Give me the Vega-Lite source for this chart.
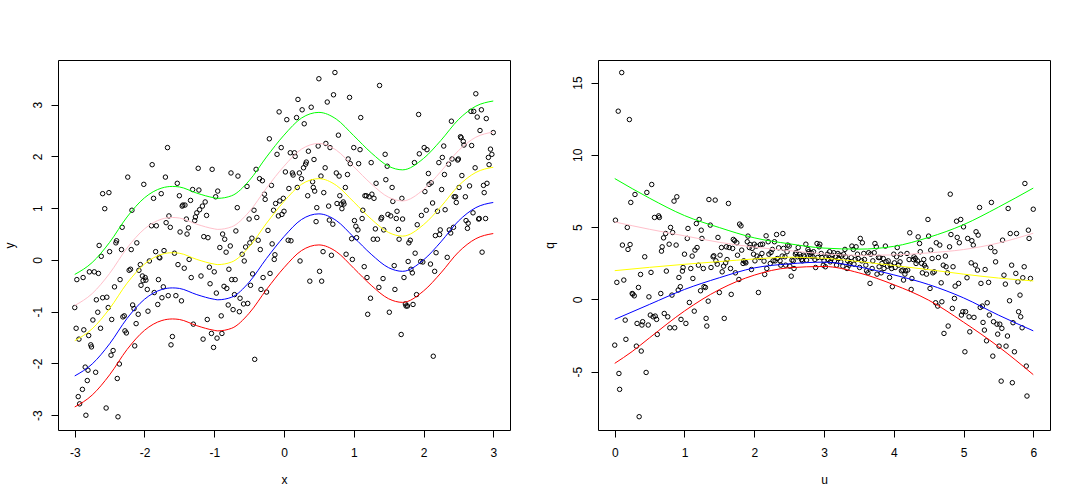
{
"$schema":"https://vega.github.io/schema/vega-lite/v6.json",
"background":"white",
"padding":{"left":2,"top":59,"right":5,"bottom":5},
"config":{"view":{"stroke":"black","strokeWidth":1},
"axis":{"domain":false,"grid":false,"tickColor":"black","tickSize":7,"tickWidth":1,"labelFont":"Liberation Sans","labelFontSize":12,"labelColor":"black","titleFont":"Liberation Sans","titleFontSize":12,"titleFontWeight":"normal","titleColor":"black"},
"axisX":{"labelPadding":10,"titlePadding":16},
"axisY":{"labelAngle":-90,"labelAlign":"center","labelBaseline":"alphabetic","labelPadding":10,"titlePadding":18,"titleBaseline":"alphabetic"}},
"spacing":88,
"bounds":"flush",
"datasets":{
"left":[{"x":-3.0,"y":-0.92},{"x":-2.98,"y":-1.32},{"x":-2.97,"y":-0.38},{"x":-2.95,"y":-2.64},{"x":-2.93,"y":-2.78},{"x":-2.94,"y":-1.53},{"x":-2.89,"y":-2.5},{"x":-2.88,"y":-0.34},{"x":-2.87,"y":-1.35},{"x":-2.85,"y":-2.07},{"x":-2.84,"y":-3.0},{"x":-2.82,"y":-2.33},{"x":-2.81,"y":-2.13},{"x":-2.8,"y":-1.46},{"x":-2.79,"y":-0.23},{"x":-2.77,"y":-1.64},{"x":-2.76,"y":-1.68},{"x":-2.74,"y":-1.16},{"x":-2.72,"y":-0.23},{"x":-2.7,"y":-2.17},{"x":-2.69,"y":-0.77},{"x":-2.67,"y":-1.01},{"x":-2.66,"y":-0.26},{"x":-2.65,"y":0.28},{"x":-2.63,"y":-1.32},{"x":-2.62,"y":0.07},{"x":-2.6,"y":-0.73},{"x":-2.6,"y":1.28},{"x":-2.57,"y":0.99},{"x":-2.55,"y":-2.86},{"x":-2.54,"y":-0.72},{"x":-2.52,"y":-0.92},{"x":-2.51,"y":1.3},{"x":-2.5,"y":0.16},{"x":-2.48,"y":-1.84},{"x":-2.47,"y":-1.15},{"x":-2.45,"y":-1.75},{"x":-2.43,"y":-0.52},{"x":-2.41,"y":0.33},{"x":-2.4,"y":0.37},{"x":-2.39,"y":-2.29},{"x":-2.38,"y":-3.03},{"x":-2.36,"y":-2.01},{"x":-2.35,"y":-0.38},{"x":-2.33,"y":0.2},{"x":-2.32,"y":0.63},{"x":-2.31,"y":-1.1},{"x":-2.29,"y":-1.08},{"x":-2.28,"y":-1.37},{"x":-2.26,"y":-1.41},{"x":-2.24,"y":1.6},{"x":-2.22,"y":-0.2},{"x":-2.2,"y":-0.18},{"x":-2.19,"y":0.2},{"x":-2.18,"y":0.96},{"x":-2.17,"y":-0.87},{"x":-2.15,"y":-0.94},{"x":-2.14,"y":-1.66},{"x":-2.12,"y":-1.23},{"x":-2.11,"y":0.33},{"x":-2.09,"y":-1.05},{"x":-2.08,"y":-0.2},{"x":-2.06,"y":-0.09},{"x":-2.05,"y":-0.49},{"x":-2.03,"y":-0.31},{"x":-2.02,"y":-0.4},{"x":-2.01,"y":1.46},{"x":-1.99,"y":-0.34},{"x":-1.98,"y":-0.39},{"x":-1.96,"y":-0.57},{"x":-1.95,"y":-0.99},{"x":-1.93,"y":-0.02},{"x":-1.9,"y":0.66},{"x":-1.89,"y":1.84},{"x":-1.87,"y":1.19},{"x":-1.86,"y":-0.63},{"x":-1.84,"y":0.16},{"x":-1.83,"y":0.66},{"x":-1.81,"y":-0.86},{"x":-1.8,"y":-0.38},{"x":-1.79,"y":0.05},{"x":-1.78,"y":0.04},{"x":-1.76,"y":1.28},{"x":-1.75,"y":-0.73},{"x":-1.73,"y":-0.52},{"x":-1.72,"y":0.18},{"x":-1.7,"y":1.6},{"x":-1.69,"y":0.72},{"x":-1.67,"y":2.17},{"x":-1.66,"y":-0.69},{"x":-1.65,"y":0.85},{"x":-1.63,"y":0.63},{"x":-1.62,"y":-1.64},{"x":-1.6,"y":-1.48},{"x":-1.57,"y":0.13},{"x":-1.55,"y":-0.69},{"x":-1.53,"y":1.48},{"x":-1.52,"y":-0.09},{"x":-1.5,"y":1.24},{"x":-1.49,"y":0.54},{"x":-1.47,"y":-0.79},{"x":-1.46,"y":1.04},{"x":-1.45,"y":1.06},{"x":-1.43,"y":-0.16},{"x":-1.42,"y":1.06},{"x":-1.4,"y":0.79},{"x":-1.39,"y":0.5},{"x":-1.37,"y":0.62},{"x":-1.36,"y":0.01},{"x":-1.34,"y":1.15},{"x":-1.33,"y":-0.34},{"x":-1.31,"y":1.36},{"x":-1.3,"y":-1.24},{"x":-1.28,"y":0.76},{"x":-1.27,"y":0.83},{"x":-1.25,"y":0.91},{"x":-1.23,"y":1.77},{"x":-1.22,"y":1.35},{"x":-1.21,"y":0.97},{"x":-1.19,"y":-0.31},{"x":-1.17,"y":1.04},{"x":-1.16,"y":-1.53},{"x":-1.15,"y":0.45},{"x":-1.13,"y":1.12},{"x":-1.11,"y":0.86},{"x":-1.1,"y":-1.15},{"x":-1.09,"y":0.43},{"x":-1.07,"y":-0.14},{"x":-1.06,"y":-0.46},{"x":-1.04,"y":-1.42},{"x":-1.03,"y":1.75},{"x":-1.01,"y":-1.69},{"x":-1.0,"y":-0.23},{"x":-0.98,"y":1.22},{"x":-0.97,"y":-0.64},{"x":-0.96,"y":-1.51},{"x":-0.95,"y":1.33},{"x":-0.92,"y":0.24},{"x":-0.9,"y":-1.08},{"x":-0.89,"y":-1.42},{"x":-0.88,"y":0.5},{"x":-0.86,"y":-0.51},{"x":-0.85,"y":0.4},{"x":-0.83,"y":0.15},{"x":-0.82,"y":-0.55},{"x":-0.8,"y":-0.87},{"x":-0.79,"y":-0.18},{"x":-0.77,"y":0.27},{"x":-0.76,"y":1.68},{"x":-0.75,"y":-0.38},{"x":-0.73,"y":-0.96},{"x":-0.71,"y":-0.67},{"x":-0.7,"y":-0.38},{"x":-0.69,"y":0.56},{"x":-0.67,"y":1.01},{"x":-0.66,"y":1.62},{"x":-0.64,"y":-1.0},{"x":-0.63,"y":-0.74},{"x":-0.6,"y":0.11},{"x":-0.58,"y":-0.85},{"x":-0.57,"y":-0.02},{"x":-0.55,"y":0.25},{"x":-0.53,"y":1.42},{"x":-0.52,"y":-0.84},{"x":-0.5,"y":0.79},{"x":-0.49,"y":0.33},{"x":-0.48,"y":-0.49},{"x":-0.46,"y":0.42},{"x":-0.45,"y":-0.27},{"x":-0.43,"y":0.96},{"x":-0.42,"y":-1.92},{"x":-0.4,"y":1.75},{"x":-0.39,"y":0.82},{"x":-0.37,"y":0.38},{"x":-0.35,"y":1.57},{"x":-0.34,"y":0.2},{"x":-0.33,"y":-0.57},{"x":-0.31,"y":1.53},{"x":-0.3,"y":-0.34},{"x":-0.28,"y":1.27},{"x":-0.27,"y":1.17},{"x":-0.25,"y":-0.62},{"x":-0.23,"y":0.57},{"x":-0.21,"y":2.34},{"x":-0.2,"y":-0.26},{"x":-0.18,"y":1.44},{"x":-0.17,"y":0.31},{"x":-0.15,"y":0.96},{"x":-0.14,"y":0.01},{"x":-0.13,"y":0.1},{"x":-0.12,"y":1.09},{"x":-0.1,"y":2.04},{"x":-0.08,"y":0.85},{"x":-0.07,"y":2.86},{"x":-0.06,"y":1.14},{"x":-0.04,"y":2.17},{"x":-0.03,"y":0.88},{"x":-0.01,"y":1.19},{"x":0.0,"y":0.94},{"x":0.02,"y":1.7},{"x":0.04,"y":2.71},{"x":0.06,"y":0.38},{"x":0.07,"y":1.38},{"x":0.09,"y":2.07},{"x":0.1,"y":0.37},{"x":0.12,"y":1.68},{"x":0.13,"y":1.64},{"x":0.15,"y":2.07},{"x":0.16,"y":2.0},{"x":0.18,"y":2.75},{"x":0.19,"y":1.4},{"x":0.2,"y":3.1},{"x":0.22,"y":1.68},{"x":0.23,"y":-0.02},{"x":0.25,"y":1.57},{"x":0.26,"y":2.9},{"x":0.28,"y":1.78},{"x":0.29,"y":2.63},{"x":0.31,"y":1.85},{"x":0.32,"y":1.89},{"x":0.34,"y":1.24},{"x":0.35,"y":2.1},{"x":0.37,"y":-0.41},{"x":0.39,"y":2.95},{"x":0.41,"y":1.51},{"x":0.42,"y":1.4},{"x":0.43,"y":1.94},{"x":0.44,"y":1.33},{"x":0.46,"y":0.74},{"x":0.47,"y":1.01},{"x":0.49,"y":2.2},{"x":0.5,"y":3.5},{"x":0.51,"y":-0.22},{"x":0.53,"y":1.62},{"x":0.54,"y":-0.41},{"x":0.56,"y":0.16},{"x":0.57,"y":1.3},{"x":0.59,"y":1.78},{"x":0.6,"y":2.25},{"x":0.62,"y":3.05},{"x":0.64,"y":1.04},{"x":0.65,"y":0.77},{"x":0.66,"y":2.17},{"x":0.68,"y":0.09},{"x":0.7,"y":0.69},{"x":0.71,"y":3.19},{"x":0.73,"y":3.62},{"x":0.75,"y":1.68},{"x":0.76,"y":1.09},{"x":0.78,"y":2.41},{"x":0.79,"y":1.62},{"x":0.8,"y":1.24},{"x":0.82,"y":1.08},{"x":0.83,"y":0.99},{"x":0.85,"y":1.12},{"x":0.86,"y":1.08},{"x":0.88,"y":1.4},{"x":0.89,"y":0.11},{"x":0.91,"y":1.65},{"x":0.92,"y":1.95},{"x":0.94,"y":3.14},{"x":0.95,"y":1.86},{"x":0.97,"y":0.41},{"x":0.98,"y":0.01},{"x":1.0,"y":2.17},{"x":1.01,"y":0.76},{"x":1.03,"y":0.65},{"x":1.04,"y":0.43},{"x":1.06,"y":0.58},{"x":1.07,"y":1.86},{"x":1.09,"y":2.13},{"x":1.1,"y":2.75},{"x":1.12,"y":0.8},{"x":1.13,"y":0.96},{"x":1.15,"y":-0.13},{"x":1.16,"y":1.24},{"x":1.18,"y":1.24},{"x":1.19,"y":-0.34},{"x":1.2,"y":-1.05},{"x":1.22,"y":1.22},{"x":1.24,"y":-0.74},{"x":1.25,"y":1.88},{"x":1.26,"y":1.27},{"x":1.28,"y":0.4},{"x":1.29,"y":1.19},{"x":1.31,"y":0.6},{"x":1.32,"y":1.48},{"x":1.34,"y":0.4},{"x":1.36,"y":-0.53},{"x":1.37,"y":3.37},{"x":1.39,"y":0.79},{"x":1.4,"y":0.82},{"x":1.42,"y":-0.36},{"x":1.43,"y":0.58},{"x":1.45,"y":2.04},{"x":1.46,"y":1.55},{"x":1.48,"y":1.81},{"x":1.49,"y":0.88},{"x":1.51,"y":-1.01},{"x":1.53,"y":0.85},{"x":1.55,"y":1.4},{"x":1.56,"y":1.13},{"x":1.58,"y":-0.11},{"x":1.59,"y":-0.57},{"x":1.61,"y":0.8},{"x":1.62,"y":0.94},{"x":1.64,"y":0.59},{"x":1.65,"y":0.4},{"x":1.68,"y":-1.44},{"x":1.69,"y":1.19},{"x":1.7,"y":0.79},{"x":1.72,"y":-0.34},{"x":1.74,"y":-0.85},{"x":1.75,"y":-0.89},{"x":1.77,"y":-0.89},{"x":1.78,"y":-0.03},{"x":1.79,"y":0.33},{"x":1.81,"y":0.38},{"x":1.82,"y":-0.18},{"x":1.84,"y":-0.25},{"x":1.85,"y":-0.86},{"x":1.87,"y":1.88},{"x":1.88,"y":0.13},{"x":1.9,"y":-0.67},{"x":1.91,"y":0.68},{"x":1.93,"y":2.81},{"x":1.94,"y":2.05},{"x":1.96,"y":-0.03},{"x":1.97,"y":0.86},{"x":1.99,"y":-0.04},{"x":2.01,"y":2.17},{"x":2.02,"y":1.32},{"x":2.04,"y":0.96},{"x":2.05,"y":2.13},{"x":2.07,"y":1.67},{"x":2.08,"y":1.46},{"x":2.1,"y":-0.08},{"x":2.11,"y":1.49},{"x":2.13,"y":1.1},{"x":2.14,"y":-1.86},{"x":2.16,"y":-0.22},{"x":2.17,"y":0.47},{"x":2.18,"y":0.14},{"x":2.2,"y":0.94},{"x":2.22,"y":1.88},{"x":2.23,"y":0.49},{"x":2.24,"y":0.58},{"x":2.26,"y":1.36},{"x":2.27,"y":1.98},{"x":2.29,"y":2.2},{"x":2.3,"y":1.65},{"x":2.31,"y":0.97},{"x":2.34,"y":0.05},{"x":2.36,"y":1.85},{"x":2.37,"y":0.58},{"x":2.39,"y":0.52},{"x":2.4,"y":2.68},{"x":2.41,"y":1.95},{"x":2.43,"y":0.63},{"x":2.44,"y":1.22},{"x":2.46,"y":1.22},{"x":2.47,"y":1.11},{"x":2.49,"y":1.93},{"x":2.5,"y":1.95},{"x":2.51,"y":1.4},{"x":2.53,"y":2.38},{"x":2.54,"y":2.36},{"x":2.55,"y":1.63},{"x":2.57,"y":2.29},{"x":2.58,"y":2.22},{"x":2.6,"y":1.22},{"x":2.61,"y":0.76},{"x":2.63,"y":0.61},{"x":2.64,"y":0.71},{"x":2.66,"y":1.43},{"x":2.68,"y":2.87},{"x":2.69,"y":2.21},{"x":2.71,"y":0.91},{"x":2.72,"y":2.87},{"x":2.74,"y":1.78},{"x":2.75,"y":3.21},{"x":2.77,"y":2.76},{"x":2.79,"y":0.79},{"x":2.8,"y":0.8},{"x":2.81,"y":2.5},{"x":2.83,"y":2.9},{"x":2.84,"y":0.15},{"x":2.86,"y":1.44},{"x":2.87,"y":1.3},{"x":2.89,"y":0.8},{"x":2.9,"y":2.73},{"x":2.91,"y":1.48},{"x":2.93,"y":1.98},{"x":2.94,"y":1.84},{"x":2.96,"y":2.14},{"x":2.98,"y":2.04},{"x":3.0,"y":2.46}],
"leftq":[
{"x":-3,"y":-2.84,"tau":"0.05"},{"x":-2.75,"y":-2.61,"tau":"0.05"},{"x":-2.5,"y":-2.22,"tau":"0.05"},{"x":-2.25,"y":-1.73,"tau":"0.05"},{"x":-2,"y":-1.36,"tau":"0.05"},{"x":-1.75,"y":-1.17,"tau":"0.05"},{"x":-1.6,"y":-1.14,"tau":"0.05"},{"x":-1.5,"y":-1.15,"tau":"0.05"},{"x":-1.25,"y":-1.27,"tau":"0.05"},{"x":-1,"y":-1.36,"tau":"0.05"},{"x":-0.95,"y":-1.37,"tau":"0.05"},{"x":-0.75,"y":-1.32,"tau":"0.05"},{"x":-0.5,"y":-1.03,"tau":"0.05"},{"x":-0.25,"y":-0.57,"tau":"0.05"},{"x":0,"y":-0.15,"tau":"0.05"},{"x":0.25,"y":0.18,"tau":"0.05"},{"x":0.5,"y":0.29,"tau":"0.05"},{"x":0.75,"y":0.16,"tau":"0.05"},{"x":1,"y":-0.16,"tau":"0.05"},{"x":1.25,"y":-0.49,"tau":"0.05"},{"x":1.5,"y":-0.75,"tau":"0.05"},{"x":1.7,"y":-0.82,"tau":"0.05"},{"x":2,"y":-0.6,"tau":"0.05"},{"x":2.25,"y":-0.25,"tau":"0.05"},{"x":2.5,"y":0.15,"tau":"0.05"},{"x":2.75,"y":0.41,"tau":"0.05"},{"x":3,"y":0.51,"tau":"0.05"},
{"x":-3,"y":-2.24,"tau":"0.25"},{"x":-2.75,"y":-2.01,"tau":"0.25"},{"x":-2.5,"y":-1.62,"tau":"0.25"},{"x":-2.25,"y":-1.13,"tau":"0.25"},{"x":-2,"y":-0.76,"tau":"0.25"},{"x":-1.75,"y":-0.57,"tau":"0.25"},{"x":-1.6,"y":-0.54,"tau":"0.25"},{"x":-1.5,"y":-0.55,"tau":"0.25"},{"x":-1.25,"y":-0.67,"tau":"0.25"},{"x":-1,"y":-0.76,"tau":"0.25"},{"x":-0.95,"y":-0.77,"tau":"0.25"},{"x":-0.75,"y":-0.72,"tau":"0.25"},{"x":-0.5,"y":-0.43,"tau":"0.25"},{"x":-0.25,"y":0.03,"tau":"0.25"},{"x":0,"y":0.45,"tau":"0.25"},{"x":0.25,"y":0.78,"tau":"0.25"},{"x":0.5,"y":0.89,"tau":"0.25"},{"x":0.75,"y":0.76,"tau":"0.25"},{"x":1,"y":0.44,"tau":"0.25"},{"x":1.25,"y":0.11,"tau":"0.25"},{"x":1.5,"y":-0.15,"tau":"0.25"},{"x":1.7,"y":-0.22,"tau":"0.25"},{"x":2,"y":0.0,"tau":"0.25"},{"x":2.25,"y":0.35,"tau":"0.25"},{"x":2.5,"y":0.75,"tau":"0.25"},{"x":2.75,"y":1.01,"tau":"0.25"},{"x":3,"y":1.11,"tau":"0.25"},
{"x":-3,"y":-1.56,"tau":"0.5"},{"x":-2.75,"y":-1.33,"tau":"0.5"},{"x":-2.5,"y":-0.94,"tau":"0.5"},{"x":-2.25,"y":-0.45,"tau":"0.5"},{"x":-2,"y":-0.08,"tau":"0.5"},{"x":-1.75,"y":0.11,"tau":"0.5"},{"x":-1.6,"y":0.14,"tau":"0.5"},{"x":-1.5,"y":0.13,"tau":"0.5"},{"x":-1.25,"y":0.01,"tau":"0.5"},{"x":-1,"y":-0.08,"tau":"0.5"},{"x":-0.95,"y":-0.09,"tau":"0.5"},{"x":-0.75,"y":-0.04,"tau":"0.5"},{"x":-0.5,"y":0.25,"tau":"0.5"},{"x":-0.25,"y":0.71,"tau":"0.5"},{"x":0,"y":1.13,"tau":"0.5"},{"x":0.25,"y":1.46,"tau":"0.5"},{"x":0.5,"y":1.57,"tau":"0.5"},{"x":0.75,"y":1.44,"tau":"0.5"},{"x":1,"y":1.12,"tau":"0.5"},{"x":1.25,"y":0.79,"tau":"0.5"},{"x":1.5,"y":0.53,"tau":"0.5"},{"x":1.7,"y":0.46,"tau":"0.5"},{"x":2,"y":0.68,"tau":"0.5"},{"x":2.25,"y":1.03,"tau":"0.5"},{"x":2.5,"y":1.43,"tau":"0.5"},{"x":2.75,"y":1.69,"tau":"0.5"},{"x":3,"y":1.79,"tau":"0.5"},
{"x":-3,"y":-0.88,"tau":"0.75"},{"x":-2.75,"y":-0.65,"tau":"0.75"},{"x":-2.5,"y":-0.26,"tau":"0.75"},{"x":-2.25,"y":0.23,"tau":"0.75"},{"x":-2,"y":0.6,"tau":"0.75"},{"x":-1.75,"y":0.79,"tau":"0.75"},{"x":-1.6,"y":0.82,"tau":"0.75"},{"x":-1.5,"y":0.81,"tau":"0.75"},{"x":-1.25,"y":0.69,"tau":"0.75"},{"x":-1,"y":0.6,"tau":"0.75"},{"x":-0.95,"y":0.59,"tau":"0.75"},{"x":-0.75,"y":0.64,"tau":"0.75"},{"x":-0.5,"y":0.93,"tau":"0.75"},{"x":-0.25,"y":1.39,"tau":"0.75"},{"x":0,"y":1.81,"tau":"0.75"},{"x":0.25,"y":2.14,"tau":"0.75"},{"x":0.5,"y":2.25,"tau":"0.75"},{"x":0.75,"y":2.12,"tau":"0.75"},{"x":1,"y":1.8,"tau":"0.75"},{"x":1.25,"y":1.47,"tau":"0.75"},{"x":1.5,"y":1.21,"tau":"0.75"},{"x":1.7,"y":1.14,"tau":"0.75"},{"x":2,"y":1.36,"tau":"0.75"},{"x":2.25,"y":1.71,"tau":"0.75"},{"x":2.5,"y":2.11,"tau":"0.75"},{"x":2.75,"y":2.37,"tau":"0.75"},{"x":3,"y":2.47,"tau":"0.75"},
{"x":-3,"y":-0.28,"tau":"0.95"},{"x":-2.75,"y":-0.05,"tau":"0.95"},{"x":-2.5,"y":0.34,"tau":"0.95"},{"x":-2.25,"y":0.83,"tau":"0.95"},{"x":-2,"y":1.2,"tau":"0.95"},{"x":-1.75,"y":1.39,"tau":"0.95"},{"x":-1.6,"y":1.42,"tau":"0.95"},{"x":-1.5,"y":1.41,"tau":"0.95"},{"x":-1.25,"y":1.29,"tau":"0.95"},{"x":-1,"y":1.2,"tau":"0.95"},{"x":-0.95,"y":1.19,"tau":"0.95"},{"x":-0.75,"y":1.24,"tau":"0.95"},{"x":-0.5,"y":1.53,"tau":"0.95"},{"x":-0.25,"y":1.99,"tau":"0.95"},{"x":0,"y":2.41,"tau":"0.95"},{"x":0.25,"y":2.74,"tau":"0.95"},{"x":0.5,"y":2.85,"tau":"0.95"},{"x":0.75,"y":2.72,"tau":"0.95"},{"x":1,"y":2.4,"tau":"0.95"},{"x":1.25,"y":2.07,"tau":"0.95"},{"x":1.5,"y":1.81,"tau":"0.95"},{"x":1.7,"y":1.74,"tau":"0.95"},{"x":2,"y":1.96,"tau":"0.95"},{"x":2.25,"y":2.31,"tau":"0.95"},{"x":2.5,"y":2.71,"tau":"0.95"},{"x":2.75,"y":2.97,"tau":"0.95"},{"x":3,"y":3.07,"tau":"0.95"}],
"right":[{"u":0.01,"q":5.48},{"u":0.0,"q":-3.16},{"u":0.05,"q":13.02},{"u":0.03,"q":1.18},{"u":0.06,"q":-5.12},{"u":0.07,"q":-6.22},{"u":0.1,"q":15.69},{"u":0.11,"q":3.76},{"u":0.13,"q":1.34},{"u":0.15,"q":-1.43},{"u":0.16,"q":-2.76},{"u":0.18,"q":4.98},{"u":0.19,"q":3.46},{"u":0.21,"q":12.44},{"u":0.22,"q":3.8},{"u":0.23,"q":6.71},{"u":0.25,"q":0.41},{"u":0.26,"q":0.37},{"u":0.28,"q":0.25},{"u":0.29,"q":7.26},{"u":0.31,"q":-3.23},{"u":0.32,"q":-1.66},{"u":0.34,"q":0.83},{"u":0.35,"q":-8.11},{"u":0.37,"q":1.73},{"u":0.38,"q":-3.57},{"u":0.39,"q":-1.77},{"u":0.4,"q":-1.54},{"u":0.43,"q":2.95},{"u":0.45,"q":-5.05},{"u":0.46,"q":7.4},{"u":0.48,"q":-1.77},{"u":0.49,"q":0.18},{"u":0.51,"q":-1.08},{"u":0.52,"q":1.87},{"u":0.53,"q":7.95},{"u":0.55,"q":-1.2},{"u":0.57,"q":5.67},{"u":0.58,"q":-1.15},{"u":0.6,"q":-1.38},{"u":0.61,"q":-2.42},{"u":0.63,"q":5.78},{"u":0.64,"q":5.67},{"u":0.66,"q":0.41},{"u":0.67,"q":3.34},{"u":0.68,"q":3.64},{"u":0.7,"q":4.26},{"u":0.71,"q":-0.97},{"u":0.73,"q":4.56},{"u":0.74,"q":1.96},{"u":0.76,"q":-1.2},{"u":0.78,"q":3.82},{"u":0.79,"q":-1.96},{"u":0.8,"q":4.98},{"u":0.82,"q":0.3},{"u":0.83,"q":4.63},{"u":0.85,"q":6.8},{"u":0.86,"q":-1.96},{"u":0.88,"q":3.76},{"u":0.89,"q":7.1},{"u":0.91,"q":0.65},{"u":0.92,"q":1.52},{"u":0.94,"q":0.88},{"u":0.95,"q":-1.38},{"u":0.97,"q":1.96},{"u":0.98,"q":2.21},{"u":1.0,"q":3.13},{"u":1.02,"q":-1.66},{"u":1.04,"q":4.22},{"u":1.05,"q":4.91},{"u":1.07,"q":-0.21},{"u":1.09,"q":2.14},{"u":1.11,"q":3.0},{"u":1.12,"q":1.45},{"u":1.14,"q":-0.81},{"u":1.15,"q":3.41},{"u":1.17,"q":5.25},{"u":1.18,"q":3.59},{"u":1.2,"q":2.37},{"u":1.21,"q":5.53},{"u":1.23,"q":0.6},{"u":1.24,"q":4.79},{"u":1.25,"q":4.22},{"u":1.27,"q":2.14},{"u":1.28,"q":0.88},{"u":1.3,"q":0.83},{"u":1.31,"q":-1.31},{"u":1.32,"q":-1.84},{"u":1.34,"q":-0.12},{"u":1.35,"q":6.91},{"u":1.37,"q":5.14},{"u":1.38,"q":2.21},{"u":1.41,"q":2.95},{"u":1.42,"q":3.02},{"u":1.44,"q":6.87},{"u":1.45,"q":2.67},{"u":1.47,"q":2.44},{"u":1.48,"q":4.29},{"u":1.5,"q":0.48},{"u":1.51,"q":3.06},{"u":1.53,"q":3.59},{"u":1.54,"q":1.91},{"u":1.56,"q":2.3},{"u":1.57,"q":-1.31},{"u":1.59,"q":2.53},{"u":1.6,"q":3.64},{"u":1.61,"q":2.76},{"u":1.63,"q":6.64},{"u":1.64,"q":3.59},{"u":1.66,"q":2.14},{"u":1.67,"q":0.35},{"u":1.69,"q":3.53},{"u":1.7,"q":4.15},{"u":1.72,"q":4.06},{"u":1.73,"q":1.84},{"u":1.75,"q":3.92},{"u":1.76,"q":3.06},{"u":1.78,"q":1.38},{"u":1.79,"q":5.21},{"u":1.81,"q":5.09},{"u":1.82,"q":3.41},{"u":1.84,"q":2.49},{"u":1.85,"q":2.67},{"u":1.87,"q":2.6},{"u":1.88,"q":2.53},{"u":1.9,"q":3.99},{"u":1.91,"q":4.38},{"u":1.93,"q":3.59},{"u":1.94,"q":3.8},{"u":1.96,"q":2.07},{"u":1.97,"q":3.53},{"u":1.99,"q":3.13},{"u":2.0,"q":3.82},{"u":2.01,"q":2.67},{"u":2.03,"q":3.69},{"u":2.04,"q":3.0},{"u":2.06,"q":0.48},{"u":2.08,"q":2.9},{"u":2.09,"q":3.8},{"u":2.11,"q":3.18},{"u":2.12,"q":3.82},{"u":2.14,"q":2.65},{"u":2.15,"q":1.73},{"u":2.17,"q":4.4},{"u":2.18,"q":2.14},{"u":2.2,"q":3.99},{"u":2.21,"q":3.13},{"u":2.23,"q":2.49},{"u":2.24,"q":3.25},{"u":2.26,"q":3.46},{"u":2.27,"q":2.67},{"u":2.29,"q":3.99},{"u":2.3,"q":2.67},{"u":2.32,"q":4.49},{"u":2.33,"q":2.83},{"u":2.35,"q":3.57},{"u":2.37,"q":2.67},{"u":2.38,"q":2.37},{"u":2.4,"q":3.0},{"u":2.41,"q":4.56},{"u":2.42,"q":3.53},{"u":2.44,"q":2.95},{"u":2.45,"q":2.37},{"u":2.47,"q":3.3},{"u":2.48,"q":3.76},{"u":2.5,"q":3.69},{"u":2.51,"q":2.3},{"u":2.53,"q":1.61},{"u":2.54,"q":2.72},{"u":2.56,"q":2.67},{"u":2.57,"q":2.14},{"u":2.59,"q":3.13},{"u":2.6,"q":3.25},{"u":2.62,"q":2.95},{"u":2.63,"q":3.59},{"u":2.65,"q":3.13},{"u":2.66,"q":2.95},{"u":2.68,"q":2.76},{"u":2.69,"q":2.67},{"u":2.71,"q":3.06},{"u":2.72,"q":2.95},{"u":2.74,"q":3.82},{"u":2.75,"q":2.72},{"u":2.77,"q":3.46},{"u":2.78,"q":3.3},{"u":2.8,"q":3.13},{"u":2.81,"q":3.0},{"u":2.82,"q":3.23},{"u":2.84,"q":2.95},{"u":2.85,"q":3.3},{"u":2.87,"q":2.76},{"u":2.88,"q":2.21},{"u":2.9,"q":3.87},{"u":2.91,"q":2.9},{"u":2.93,"q":3.64},{"u":2.94,"q":3.82},{"u":2.96,"q":3.18},{"u":2.97,"q":2.9},{"u":2.99,"q":2.37},{"u":3.0,"q":2.67},{"u":3.02,"q":2.26},{"u":3.03,"q":2.95},{"u":3.05,"q":3.13},{"u":3.06,"q":2.76},{"u":3.08,"q":3.3},{"u":3.09,"q":2.6},{"u":3.11,"q":2.83},{"u":3.12,"q":3.06},{"u":3.14,"q":3.23},{"u":3.15,"q":2.67},{"u":3.17,"q":2.95},{"u":3.18,"q":2.37},{"u":3.2,"q":3.18},{"u":3.21,"q":2.83},{"u":3.22,"q":3.06},{"u":3.24,"q":2.6},{"u":3.25,"q":3.0},{"u":3.27,"q":2.3},{"u":3.28,"q":3.13},{"u":3.3,"q":3.46},{"u":3.31,"q":2.95},{"u":3.33,"q":2.14},{"u":3.34,"q":2.67},{"u":3.36,"q":2.37},{"u":3.37,"q":2.49},{"u":3.39,"q":2.9},{"u":3.4,"q":3.69},{"u":3.42,"q":3.46},{"u":3.43,"q":2.44},{"u":3.45,"q":2.76},{"u":3.46,"q":3.64},{"u":3.48,"q":3.13},{"u":3.49,"q":2.83},{"u":3.51,"q":2.21},{"u":3.52,"q":4.22},{"u":3.54,"q":2.67},{"u":3.55,"q":3.92},{"u":3.57,"q":3.18},{"u":3.58,"q":2.76},{"u":3.6,"q":2.37},{"u":3.61,"q":1.98},{"u":3.63,"q":1.84},{"u":3.64,"q":3.23},{"u":3.66,"q":1.11},{"u":3.67,"q":3.13},{"u":3.69,"q":2.14},{"u":3.7,"q":2.67},{"u":3.72,"q":3.23},{"u":3.73,"q":3.87},{"u":3.75,"q":3.64},{"u":3.76,"q":1.75},{"u":3.78,"q":2.9},{"u":3.79,"q":2.26},{"u":3.8,"q":2.9},{"u":3.82,"q":1.84},{"u":3.83,"q":2.49},{"u":3.85,"q":2.83},{"u":3.86,"q":2.14},{"u":3.88,"q":3.69},{"u":3.89,"q":2.6},{"u":3.91,"q":2.3},{"u":3.92,"q":2.67},{"u":3.94,"q":1.52},{"u":3.95,"q":2.37},{"u":3.97,"q":2.14},{"u":3.98,"q":0.88},{"u":4.0,"q":3.13},{"u":4.01,"q":2.53},{"u":4.02,"q":2.21},{"u":4.04,"q":2.95},{"u":4.05,"q":3.59},{"u":4.07,"q":2.37},{"u":4.09,"q":2.6},{"u":4.1,"q":3.13},{"u":4.11,"q":1.98},{"u":4.13,"q":2.03},{"u":4.14,"q":1.34},{"u":4.16,"q":1.75},{"u":4.17,"q":1.98},{"u":4.19,"q":3.18},{"u":4.2,"q":2.03},{"u":4.22,"q":2.76},{"u":4.23,"q":4.61},{"u":4.25,"q":0.69},{"u":4.26,"q":1.45},{"u":4.28,"q":2.76},{"u":4.29,"q":2.95},{"u":4.31,"q":2.83},{"u":4.32,"q":2.49},{"u":4.34,"q":2.67},{"u":4.35,"q":4.33},{"u":4.37,"q":3.87},{"u":4.38,"q":3.3},{"u":4.4,"q":2.49},{"u":4.41,"q":1.84},{"u":4.43,"q":2.76},{"u":4.44,"q":2.37},{"u":4.46,"q":2.21},{"u":4.47,"q":1.75},{"u":4.49,"q":5.53},{"u":4.5,"q":4.38},{"u":4.52,"q":0.76},{"u":4.53,"q":3.41},{"u":4.55,"q":2.83},{"u":4.56,"q":1.84},{"u":4.58,"q":1.91},{"u":4.6,"q":-0.23},{"u":4.61,"q":3.92},{"u":4.63,"q":-0.46},{"u":4.64,"q":2.9},{"u":4.66,"q":3.76},{"u":4.68,"q":1.15},{"u":4.69,"q":-0.16},{"u":4.71,"q":2.37},{"u":4.72,"q":-2.35},{"u":4.74,"q":3.0},{"u":4.75,"q":2.26},{"u":4.77,"q":1.84},{"u":4.78,"q":-1.84},{"u":4.8,"q":3.64},{"u":4.81,"q":7.28},{"u":4.82,"q":4.49},{"u":4.84,"q":-0.62},{"u":4.85,"q":2.26},{"u":4.87,"q":0.07},{"u":4.88,"q":0.92},{"u":4.9,"q":5.41},{"u":4.91,"q":4.29},{"u":4.93,"q":1.11},{"u":4.94,"q":3.92},{"u":4.96,"q":5.53},{"u":4.97,"q":-1.08},{"u":4.99,"q":-0.85},{"u":5.0,"q":5.02},{"u":5.02,"q":-3.62},{"u":5.03,"q":-0.85},{"u":5.05,"q":1.5},{"u":5.06,"q":4.22},{"u":5.08,"q":-1.2},{"u":5.09,"q":-2.24},{"u":5.11,"q":2.53},{"u":5.12,"q":4.06},{"u":5.14,"q":3.76},{"u":5.15,"q":-1.24},{"u":5.17,"q":2.37},{"u":5.18,"q":4.68},{"u":5.2,"q":2.03},{"u":5.21,"q":4.45},{"u":5.23,"q":6.36},{"u":5.24,"q":-0.55},{"u":5.25,"q":1.11},{"u":5.27,"q":-0.46},{"u":5.28,"q":-1.59},{"u":5.3,"q":-2.12},{"u":5.31,"q":2.07},{"u":5.33,"q":-2.86},{"u":5.34,"q":-0.23},{"u":5.36,"q":1.18},{"u":5.37,"q":-1.08},{"u":5.39,"q":3.59},{"u":5.4,"q":6.71},{"u":5.42,"q":-3.92},{"u":5.43,"q":-1.54},{"u":5.45,"q":3.3},{"u":5.46,"q":2.6},{"u":5.48,"q":-1.71},{"u":5.49,"q":-2.4},{"u":5.51,"q":-3.23},{"u":5.52,"q":-1.71},{"u":5.54,"q":-5.65},{"u":5.55,"q":-2.0},{"u":5.56,"q":4.1},{"u":5.58,"q":1.68},{"u":5.6,"q":1.06},{"u":5.61,"q":-3.23},{"u":5.63,"q":-2.53},{"u":5.64,"q":6.29},{"u":5.66,"q":-0.09},{"u":5.67,"q":4.56},{"u":5.69,"q":2.37},{"u":5.7,"q":-5.76},{"u":5.71,"q":-1.61},{"u":5.73,"q":-3.62},{"u":5.75,"q":1.8},{"u":5.76,"q":4.56},{"u":5.78,"q":1.22},{"u":5.79,"q":-0.85},{"u":5.81,"q":0.3},{"u":5.82,"q":-1.2},{"u":5.84,"q":-1.96},{"u":5.85,"q":1.5},{"u":5.87,"q":2.26},{"u":5.88,"q":8.02},{"u":5.9,"q":-4.61},{"u":5.91,"q":-6.68},{"u":5.93,"q":4.79},{"u":5.94,"q":4.22},{"u":5.96,"q":1.45},{"u":6.0,"q":6.24}],
"rightq":[
{"u":0,"q":-4.42,"tau":"0.05"},{"u":0.25,"q":-3.6,"tau":"0.05"},{"u":0.5,"q":-2.65,"tau":"0.05"},{"u":1,"q":-0.8,"tau":"0.05"},{"u":1.5,"q":0.68,"tau":"0.05"},{"u":2,"q":1.68,"tau":"0.05"},{"u":2.5,"q":2.19,"tau":"0.05"},{"u":3,"q":2.28,"tau":"0.05"},{"u":3.5,"q":1.84,"tau":"0.05"},{"u":4,"q":1.02,"tau":"0.05"},{"u":4.5,"q":-0.05,"tau":"0.05"},{"u":5,"q":-1.57,"tau":"0.05"},{"u":5.5,"q":-3.26,"tau":"0.05"},{"u":6,"q":-5.2,"tau":"0.05"},
{"u":0,"q":-1.38,"tau":"0.25"},{"u":0.5,"q":-0.34,"tau":"0.25"},{"u":1,"q":0.69,"tau":"0.25"},{"u":1.5,"q":1.5,"tau":"0.25"},{"u":2,"q":2.18,"tau":"0.25"},{"u":2.5,"q":2.46,"tau":"0.25"},{"u":3,"q":2.58,"tau":"0.25"},{"u":3.5,"q":2.25,"tau":"0.25"},{"u":4,"q":1.7,"tau":"0.25"},{"u":4.5,"q":1.03,"tau":"0.25"},{"u":5,"q":0.11,"tau":"0.25"},{"u":5.5,"q":-1.08,"tau":"0.25"},{"u":6,"q":-2.17,"tau":"0.25"},
{"u":0,"q":1.99,"tau":"0.5"},{"u":0.5,"q":2.22,"tau":"0.5"},{"u":1,"q":2.43,"tau":"0.5"},{"u":1.5,"q":2.62,"tau":"0.5"},{"u":2,"q":2.8,"tau":"0.5"},{"u":2.5,"q":2.92,"tau":"0.5"},{"u":3,"q":2.85,"tau":"0.5"},{"u":3.5,"q":2.62,"tau":"0.5"},{"u":4,"q":2.35,"tau":"0.5"},{"u":4.5,"q":2.06,"tau":"0.5"},{"u":5,"q":1.75,"tau":"0.5"},{"u":5.5,"q":1.48,"tau":"0.5"},{"u":6,"q":1.28,"tau":"0.5"},
{"u":0,"q":5.36,"tau":"0.75"},{"u":0.5,"q":4.85,"tau":"0.75"},{"u":1,"q":4.4,"tau":"0.75"},{"u":1.5,"q":3.95,"tau":"0.75"},{"u":2,"q":3.62,"tau":"0.75"},{"u":2.5,"q":3.38,"tau":"0.75"},{"u":3,"q":3.15,"tau":"0.75"},{"u":3.5,"q":3.05,"tau":"0.75"},{"u":4,"q":3.08,"tau":"0.75"},{"u":4.5,"q":3.22,"tau":"0.75"},{"u":5,"q":3.45,"tau":"0.75"},{"u":5.5,"q":3.9,"tau":"0.75"},{"u":6,"q":4.58,"tau":"0.75"},
{"u":0,"q":8.36,"tau":"0.95"},{"u":0.5,"q":7.0,"tau":"0.95"},{"u":1,"q":5.8,"tau":"0.95"},{"u":1.5,"q":4.97,"tau":"0.95"},{"u":2,"q":4.26,"tau":"0.95"},{"u":2.5,"q":3.85,"tau":"0.95"},{"u":3,"q":3.55,"tau":"0.95"},{"u":3.5,"q":3.48,"tau":"0.95"},{"u":4,"q":3.67,"tau":"0.95"},{"u":4.5,"q":4.29,"tau":"0.95"},{"u":5,"q":5.17,"tau":"0.95"},{"u":5.5,"q":6.38,"tau":"0.95"},{"u":6,"q":7.7,"tau":"0.95"}]
},
"hconcat":[
{"width":452,"height":370,
"layer":[
{"data":{"name":"left"},"mark":{"type":"point","shape":"circle","filled":false,"color":"black","opacity":1,"size":20,"strokeWidth":1},
"encoding":{"x":{"field":"x","type":"quantitative","scale":{"domain":[-3.24,3.24],"nice":false,"zero":false},"axis":{"values":[-3,-2,-1,0,1,2,3],"title":"x","labelExpr":"datum.value + ''"}},
"y":{"field":"y","type":"quantitative","scale":{"domain":[-3.285,3.862],"nice":false,"zero":false},"axis":{"values":[-3,-2,-1,0,1,2,3],"title":"y","labelExpr":"datum.value + ''"}}}},
{"data":{"name":"leftq"},"mark":{"type":"line","strokeWidth":1,"interpolate":"monotone"},
"encoding":{"x":{"field":"x","type":"quantitative"},"y":{"field":"y","type":"quantitative"},
"color":{"field":"tau","type":"nominal","scale":{"domain":["0.05","0.25","0.5","0.75","0.95"],"range":["#FF0000","#0000FF","#FFFF00","#FFC0CB","#00FF00"]},"legend":null}}}
]},
{"width":452,"height":370,
"layer":[
{"data":{"name":"right"},"mark":{"type":"point","shape":"circle","filled":false,"color":"black","opacity":1,"size":20,"strokeWidth":1},
"encoding":{"x":{"field":"u","type":"quantitative","scale":{"domain":[-0.24,6.24],"nice":false,"zero":false},"axis":{"values":[0,1,2,3,4,5,6],"title":"u","labelExpr":"datum.value + ''"}},
"y":{"field":"q","type":"quantitative","scale":{"domain":[-9.03,16.56],"nice":false,"zero":false},"axis":{"values":[-5,0,5,10,15],"title":"q","labelExpr":"datum.value + ''"}}}},
{"data":{"name":"rightq"},"mark":{"type":"line","strokeWidth":1,"interpolate":"monotone"},
"encoding":{"x":{"field":"u","type":"quantitative"},"y":{"field":"q","type":"quantitative"},
"color":{"field":"tau","type":"nominal","scale":{"domain":["0.05","0.25","0.5","0.75","0.95"],"range":["#FF0000","#0000FF","#FFFF00","#FFC0CB","#00FF00"]},"legend":null}}}
]}
]
}
